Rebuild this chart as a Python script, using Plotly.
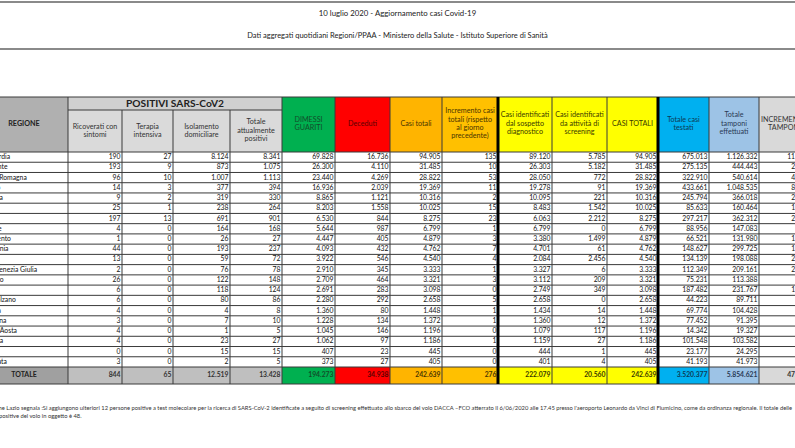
import plotly.graph_objects as go

# ---------------- DATA ----------------
title = "10 luglio 2020 - Aggiornamento casi Covid-19"
subtitle = "Dati aggregati quotidiani Regioni/PPAA - Ministero della Salute - Istituto Superiore di Sanità"

regions = ["Lombardia", "Piemonte", "Emilia-Romagna", "Veneto", "Toscana", "Liguria", "Lazio",
           "Marche", "P.A. Trento", "Campania", "Puglia", "Friuli Venezia Giulia", "Abruzzo",
           "Sicilia", "P.A. Bolzano", "Umbria", "Sardegna", "Valle d'Aosta", "Calabria",
           "Molise", "Basilicata"]

ricoverati = [190, 193, 96, 14, 9, 25, 197, 4, 1, 44, 13, 2, 26, 6, 6, 4, 3, 4, 4, 0, 3]
terapia = [27, 9, 10, 3, 2, 1, 13, 0, 0, 0, 0, 0, 0, 0, 0, 0, 0, 0, 0, 0, 0]
isolamento = [8124, 873, 1007, 377, 319, 238, 691, 164, 26, 193, 59, 76, 122, 118, 80, 4, 7, 1, 23, 15, 2]
totale_positivi = [8341, 1075, 1113, 394, 330, 264, 901, 168, 27, 237, 72, 78, 148, 124, 86, 8, 10, 5, 27, 15, 5]
dimessi = [69828, 26300, 23440, 16936, 8865, 8203, 6530, 5644, 4447, 4093, 3922, 2910, 2709, 2691,
           2280, 1360, 1228, 1045, 1062, 407, 373]
deceduti = [16736, 4110, 4269, 2039, 1121, 1558, 844, 987, 405, 432, 546, 345, 464, 283, 292, 80,
            134, 146, 97, 23, 27]
casi_totali = [94905, 31485, 28822, 19369, 10316, 10025, 8275, 6799, 4879, 4762, 4540, 3333, 3321,
               3098, 2658, 1448, 1372, 1196, 1186, 445, 405]
incremento_casi = [135, 10, 53, 11, 2, 15, 23, 1, 3, 7, 4, 1, 3, 0, 5, 1, 1, 0, 1, 0, 0]
sospetto_diagnostico = [89120, 26303, 28050, 19278, 10095, 8483, 6063, 6799, 3380, 4701, 2084, 3327,
                        3112, 2749, 2658, 1434, 1360, 1079, 1159, 444, 401]
screening = [5785, 5182, 772, 91, 221, 1542, 2212, 0, 1499, 61, 2456, 6, 209, 349, 0, 14, 12, 117, 27, 1, 4]
casi_totali_2 = [94905, 31485, 28822, 19369, 10316, 10025, 8275, 6799, 4879, 4762, 4540, 3333, 3321,
                 3098, 2658, 1448, 1372, 1196, 1186, 445, 405]
casi_testati = [675013, 275135, 322910, 433661, 245794, 85633, 297217, 88956, 66521, 148627, 134139,
                112349, 75231, 187482, 44223, 69774, 77452, 14342, 101548, 23177, 41193]
tamponi = [1126332, 444443, 540614, 1048535, 366018, 160464, 362312, 147083, 131980, 299725, 198088,
           209161, 113388, 231767, 89711, 104428, 91395, 19327, 103582, 24295, 41973]
incremento_tamponi = [11310, 2610, 4480, 8216, 2375, 1261, 2967, 806, 1228, 1742, 2130, 2066, 734,
                      1495, 685, 816, 577, 173, 835, 203, 350]

totals = [844, 65, 12519, 13428, 194273, 34938, 242639, 276, 222079, 20560, 242639, 3520377, 5854621, 47059]

headers = ["REGIONE", "Ricoverati con<br>sintomi", "Terapia<br>intensiva", "Isolamento<br>domiciliare",
           "Totale<br>attualmente<br>positivi", "DIMESSI<br>GUARITI", "Deceduti", "Casi totali",
           "Incremento casi<br>totali (rispetto<br>al giorno<br>precedente)",
           "Casi identificati<br>dal sospetto<br>diagnostico",
           "Casi identificati<br>da attività di<br>screening", "CASI TOTALI", "Totale casi<br>testati",
           "Totale<br>tamponi<br>effettuati", "INCREMENTO<br>TAMPONI"]
group_header = "POSITIVI SARS-CoV2"
total_label = "TOTALE"
footnote = ["La Regione Lazio segnala :Si aggiungono ulteriori 12 persone positive a test molecolare per la "
            "ricerca di SARS-CoV-2 identificate a seguito di screening effettuato allo sbarco del volo DACCA "
            "–FCO atterrato il 6/06/2020 alle 17.45 presso l'aeroporto Leonardo da Vinci di Fiumicino, come da "
            "ordinanza regionale. Il totale delle",
            "persone positive del volo in oggetto è 48."]

columns = [ricoverati, terapia, isolamento, totale_positivi, dimessi, deceduti, casi_totali,
           incremento_casi, sospetto_diagnostico, screening, casi_totali_2, casi_testati, tamponi,
           incremento_tamponi]

# ---------------- LAYOUT / STYLE ----------------
W, H = 795, 448
FONT = "Lato"
edges = [-30, 68, 122, 173, 230, 282, 335, 390, 442, 498, 552, 607, 658, 709, 759, 810]
top, band_bot, head_bot = 97, 110, 152
row_h = (367 - 152) / 21
tot_top, tot_bot = 367, 384

head_fill = ["#B0B0B0", "#DADADA", "#DADADA", "#DADADA", "#DADADA", "#00B050", "#FF0000", "#FFB400",
             "#FFC000", "#FFFF00", "#FFFF00", "#FFFF00", "#00B0F0", "#9DC3E6", "#D9D9D9"]
tot_fill = ["#A0A0A0", "#BFBFBF", "#BFBFBF", "#BFBFBF", "#BFBFBF", "#00B050", "#FF0000", "#FFB400",
            "#FFC000", "#FFFF00", "#FFFF00", "#FFFF00", "#00B0F0", "#9DC3E6", "#D9D9D9"]
head_txt = ["#222222", "#333333", "#333333", "#333333", "#333333", "#124d2a", "#5a0000", "#4a3500",
            "#4a3500", "#3a3a00", "#3a3a00", "#3a3a00", "#0d3b55", "#2a3a55", "#333333"]


def fmt(v):
    return f"{v:,}".replace(",", ".")


shapes = []


def rect(x0, x1, y0, y1, fill):
    shapes.append(dict(type="rect", xref="x", yref="y", x0=x0, x1=x1, y0=y0, y1=y1,
                       fillcolor=fill, line=dict(width=0), layer="below"))


def seg(x0, y0, x1, y1, color="#3a3a3a", w=1):
    shapes.append(dict(type="line", xref="x", yref="y", x0=x0, y0=y0, x1=x1, y1=y1,
                       line=dict(color=color, width=w), layer="below"))


# cell fills
for c in range(15):
    y0 = band_bot if 1 <= c <= 4 else top
    rect(edges[c], edges[c + 1], y0, head_bot, head_fill[c])
    rect(edges[c], edges[c + 1], tot_top, tot_bot, tot_fill[c])
rect(edges[1], edges[5], top, band_bot, "#D0D0D0")

# grid lines
seg(edges[0], top, edges[-1], top)
seg(edges[1], band_bot, edges[5], band_bot)
for r in range(22):
    yy = head_bot + r * row_h
    seg(edges[0], yy, edges[-1], yy)
seg(edges[0], tot_bot, edges[-1], tot_bot)
for i, e in enumerate(edges):
    y0 = band_bot if i in (2, 3, 4) else top
    seg(e, y0, e, tot_bot)
for e in (edges[9], edges[12]):
    seg(e, top, e, tot_bot, "#000000", 3)

# title rules
seg(0, 2, W, 2, "#8a8a8a", 2)
seg(0, 49, W, 49, "#8a8a8a", 2)

fig = go.Figure()


def text_trace(xs, ys, texts, pos, size, color, bold=False):
    if bold:
        texts = [f"<b>{t}</b>" for t in texts]
    fig.add_trace(go.Scatter(x=xs, y=ys, text=texts, mode="text", textposition=pos,
                             textfont=dict(family=FONT, size=size, color=color),
                             hoverinfo="skip", cliponaxis=True, showlegend=False))


# titles
text_trace([W / 2], [14], [title], "middle center", 7.8, "#222222")
text_trace([W / 2], [36.5], [subtitle], "middle center", 7.5, "#222222")

# headers (line by line)
LH = 8.4
for c, h in enumerate(headers):
    lines = h.split("<br>")
    cx = (edges[c] + edges[c + 1]) / 2
    if c == 0:
        cx = 24
    cy = (band_bot + head_bot) / 2 if 1 <= c <= 4 else (top + head_bot) / 2 - 0.5
    n = len(lines)
    ys = [cy + (i - (n - 1) / 2) * LH for i in range(n)]
    text_trace([cx] * n, ys, lines, "middle center", 7.2, head_txt[c], bold=(c == 0))
text_trace([(edges[1] + edges[5]) / 2], [(top + band_bot) / 2 + 0.5], [group_header],
           "middle center", 10.2, "#222222", bold=True)

# data rows
ys = [head_bot + (i + 0.5) * row_h + 0.3 for i in range(len(regions))]
text_trace([-21] * len(regions), ys, regions, "middle right", 6.8, "#111111")
for c, col in enumerate(columns):
    xr = edges[c + 2] - 1.5
    text_trace([xr] * len(col), ys, [fmt(v) for v in col], "middle left", 6.8, "#111111")

# total row
ty = (tot_top + tot_bot) / 2
text_trace([24], [ty], [total_label], "middle center", 7, "#222222", bold=True)
for c, v in enumerate(totals):
    xr = edges[c + 2] - 1.5
    text_trace([xr], [ty], [fmt(v)], "middle left", 6.8, head_txt[c + 1], bold=True)

# footnote
text_trace([-23, -23], [409, 416.5], footnote, "middle right", 5.8, "#333333")

fig.update_layout(
    width=W, height=H, margin=dict(l=0, r=0, t=0, b=0),
    paper_bgcolor="white", plot_bgcolor="white",
    xaxis=dict(range=[0, W], visible=False, fixedrange=True),
    yaxis=dict(range=[H, 0], visible=False, fixedrange=True),
    shapes=shapes, showlegend=False,
)
fig.write_html("out.html", config={"displayModeBar": False},
               post_script="document.body.style.margin='0';document.body.style.overflow='hidden';")
